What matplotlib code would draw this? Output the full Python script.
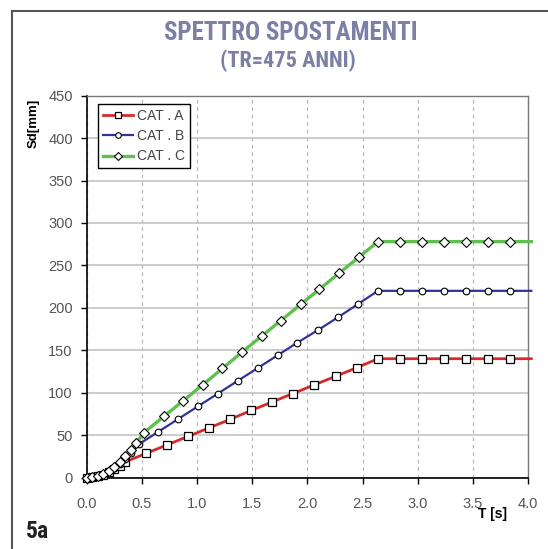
import matplotlib
matplotlib.use("Agg")
import matplotlib.pyplot as plt
from matplotlib.lines import Line2D

# ---- data ----
t_a = [0.00, 0.05, 0.10, 0.15, 0.20, 0.25, 0.30, 0.35, 0.54, 0.73, 0.92, 1.11, 1.30, 1.49,
       1.68, 1.87, 2.06, 2.26, 2.45, 2.64, 2.84, 3.04, 3.24, 3.44, 3.64, 3.84, 4.03]
sd_a = [0.0, 0.4, 1.5, 3.4, 6.1, 9.5, 13.6, 18.5, 28.5, 38.5, 48.5, 58.5, 68.5, 79.0,
        89.0, 99.0, 109.0, 119.5, 129.5, 140.0, 140.0, 140.0, 140.0, 140.0, 140.0, 140.0, 140.0]

t_b = [0.00, 0.05, 0.10, 0.15, 0.20, 0.25, 0.30, 0.35, 0.40, 0.47, 0.65, 0.83, 1.01, 1.19,
       1.37, 1.55, 1.73, 1.91, 2.10, 2.28, 2.46, 2.64, 2.84, 3.04, 3.24, 3.44, 3.64, 3.84, 4.03]
sd_b = [0.0, 0.4, 1.8, 4.0, 7.1, 11.0, 15.9, 21.6, 28.3, 39.0, 54.0, 69.0, 84.0, 99.0,
        114.0, 129.0, 144.0, 159.0, 174.0, 189.0, 204.5, 220.0, 220.0, 220.0, 220.0, 220.0,
        220.0, 220.0, 220.0]

t_c = [0.00, 0.05, 0.10, 0.15, 0.20, 0.25, 0.30, 0.35, 0.40, 0.45, 0.52, 0.70, 0.87, 1.05,
       1.23, 1.41, 1.59, 1.76, 1.94, 2.11, 2.29, 2.47, 2.64, 2.84, 3.04, 3.24, 3.44, 3.64,
       3.84, 4.03]
sd_c = [0.0, 0.5, 2.0, 4.6, 8.1, 12.7, 18.2, 24.8, 32.4, 41.0, 53.0, 72.0, 90.0, 109.0,
        128.5, 148.0, 167.0, 185.0, 204.0, 222.0, 241.0, 260.0, 278.0, 278.0, 278.0, 278.0,
        278.0, 278.0, 278.0, 278.0]

series_labels = ["CAT . A", "CAT . B", "CAT . C"]
x_ticks = [0.0, 0.5, 1.0, 1.5, 2.0, 2.5, 3.0, 3.5, 4.0]
y_ticks = [0, 50, 100, 150, 200, 250, 300, 350, 400, 450]

COND = ["Roboto Condensed", "DejaVu Sans"]

# ---- figure ----
fig = plt.figure(figsize=(5.48, 5.49), dpi=100)
ax = fig.add_axes([86.7 / 548, 1 - 477.5 / 549, (528 - 86.7) / 548, (477.5 - 95.7) / 549])

ax.set_xlim(0, 4.0)
ax.set_ylim(0, 450)

ax.set_xticks(x_ticks)
ax.set_yticks(y_ticks)
ax.set_xticklabels([f"{v:.1f}" for v in x_ticks])
ax.set_yticklabels([str(v) for v in y_ticks])
ax.tick_params(axis="both", direction="out", length=4, width=1, colors="black",
               labelsize=10.5, labelcolor="#555555")
ax.tick_params(axis="x", pad=10)
ax.tick_params(axis="y", pad=6)
for lab in ax.get_xticklabels() + ax.get_yticklabels():
    lab.set_family("Liberation Sans")

ax.yaxis.grid(True, color="#c4c4c4", linewidth=1.2, linestyle="-")
ax.xaxis.grid(True, color="#b8b8b8", linewidth=0.9, linestyle=(0, (3, 3)))
ax.set_axisbelow(True)

for s in ["left", "bottom"]:
    ax.spines[s].set_color("black")
    ax.spines[s].set_linewidth(1.2)
for s in ["top", "right"]:
    ax.spines[s].set_color("#777777")
    ax.spines[s].set_linewidth(1.0)

n_a = len(t_a)
n_b = len(t_b)
n_c = len(t_c)
ax.plot(t_a, sd_a, color="#d42b2b", lw=2.0, marker="s", ms=5.5, mfc="white", mec="black",
        mew=0.9, markevery=list(range(n_a - 1)), clip_on=False, zorder=3)
ax.plot(t_b, sd_b, color="#33339a", lw=1.6, marker="o", ms=4.8, mfc="white", mec="black",
        mew=0.8, markevery=list(range(n_b - 1)), clip_on=False, zorder=4)
ax.plot(t_c, sd_c, color="#5fc04f", lw=2.4, marker="D", ms=4.8, mfc="white", mec="black",
        mew=0.8, markevery=list(range(n_c - 1)), clip_on=False, zorder=5)

handles = [
    Line2D([], [], color="#d42b2b", lw=2.0, marker="s", ms=5, mfc="white", mec="black", mew=0.9),
    Line2D([], [], color="#33339a", lw=1.6, marker="o", ms=4, mfc="white", mec="black", mew=0.8),
    Line2D([], [], color="#5fc04f", lw=2.4, marker="D", ms=4, mfc="white", mec="black", mew=0.8),
]
leg = ax.legend(handles, series_labels, loc="upper left", bbox_to_anchor=(0.025, 0.978),
                frameon=True, fancybox=False, edgecolor="black", framealpha=1,
                prop={"family": "Liberation Sans", "size": 10}, handlelength=2.2,
                handletextpad=0.3, labelspacing=0.45, borderpad=0.35, borderaxespad=0)
leg.get_frame().set_linewidth(1.0)
for t in leg.get_texts():
    t.set_color("#444444")

# titles and labels
title_color = "#7c80a6"
fig.text(291 / 548, 1 - 33 / 549, "SPETTRO SPOSTAMENTI", ha="center", va="center",
         fontsize=18, fontweight="bold", color=title_color, family=COND, fontstretch="condensed")
fig.text(288 / 548, 1 - 61 / 549, "(TR=475 ANNI)", ha="center", va="center",
         fontsize=16, fontweight="bold", color=title_color, family=COND, fontstretch="condensed")
fig.text(34 / 548, 1 - 123 / 549, "Sd[mm]", ha="center", va="center", rotation=90,
         fontsize=9.5, fontweight="bold", color="black", family="Liberation Sans")
fig.text(492 / 548, 1 - 514 / 549, "T [s]", ha="center", va="center",
         fontsize=10, fontweight="bold", color="black", family="Liberation Sans")
fig.text(26 / 548, 1 - 532 / 549, "5a", ha="left", va="center",
         fontsize=17, fontweight="bold", color="#222222", family=COND, fontstretch="condensed")

# outer frame (left and top edges)
fig.add_artist(Line2D([12 / 548, 12 / 548], [0, 1 - 11 / 549], transform=fig.transFigure,
                      color="#555555", lw=1.5))
fig.add_artist(Line2D([12 / 548, 1], [1 - 11 / 549, 1 - 11 / 549], transform=fig.transFigure,
                      color="#555555", lw=1.5))

fig.savefig("out.png", dpi=100)
